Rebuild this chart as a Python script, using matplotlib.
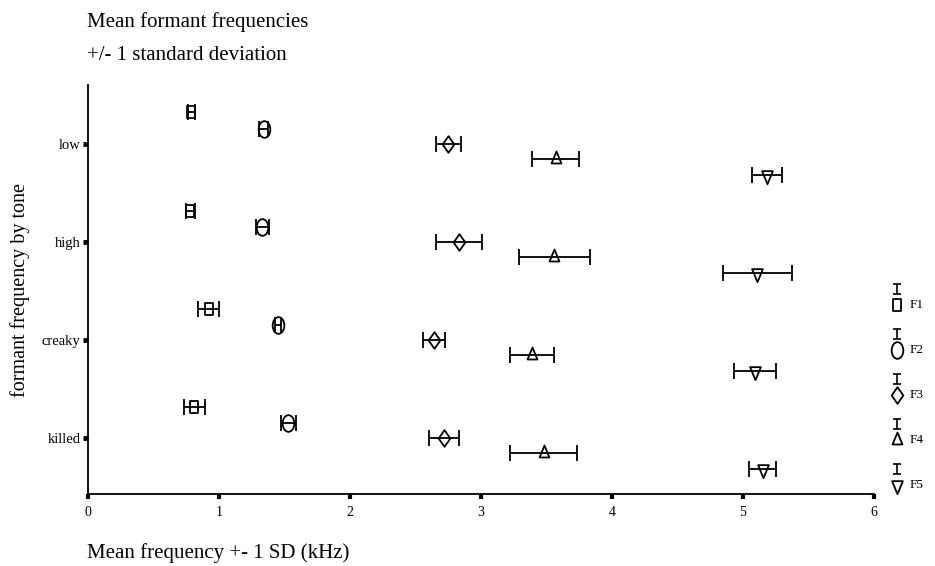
import numpy as np
import matplotlib
matplotlib.use('Agg')
import matplotlib.pyplot as plt
from matplotlib.path import Path
from matplotlib.transforms import Affine2D

plt.rcParams['font.family'] = ['Liberation Serif', 'DejaVu Serif']

# tones (top to bottom) and formants
tones = ['low', 'high', 'creaky', 'killed']
formants = ['F1', 'F2', 'F3', 'F4', 'F5']

# mean frequency (kHz), rows = tones, columns = F1..F5
means = np.array([
    [0.79, 1.34, 2.75, 3.57, 5.18],
    [0.78, 1.33, 2.83, 3.56, 5.11],
    [0.92, 1.45, 2.64, 3.39, 5.09],
    [0.81, 1.53, 2.72, 3.48, 5.15],
])
# standard deviation (kHz)
sds = np.array([
    [0.03, 0.035, 0.095, 0.18, 0.115],
    [0.035, 0.05, 0.175, 0.27, 0.26],
    [0.08, 0.025, 0.085, 0.165, 0.16],
    [0.08, 0.06, 0.115, 0.255, 0.105],
])


def closed(verts):
    verts = list(verts) + [verts[0]]
    codes = [Path.MOVETO] + [Path.LINETO] * (len(verts) - 2) + [Path.CLOSEPOLY]
    return Path(verts, codes)


# the original markers are a bit taller than wide
rect_m = closed([(-0.75, -1), (0.75, -1), (0.75, 1), (-0.75, 1)])
ellipse_m = Path.unit_circle().transformed(Affine2D().scale(0.7, 1.0))
diamond_m = closed([(0, 1), (0.7, 0), (0, -1), (-0.7, 0)])
tri_up_m = closed([(0, 1), (0.62, -0.5), (-0.62, -0.5)])
tri_dn_m = closed([(0, -1), (0.62, 0.5), (-0.62, 0.5)])

markers = [rect_m, ellipse_m, diamond_m, tri_up_m, tri_dn_m]
msizes = [8.6, 12, 12, 11.5, 12.5]
offsets = [0.32, 0.155, 0.0, -0.155, -0.32]

fig = plt.figure(figsize=(9.35, 5.66), dpi=100)
ax = fig.add_axes([0.0941, 0.1272, 0.8407, 0.7226])

ypos = np.arange(len(tones), 0, -1)  # low=4 ... killed=1

for j, f in enumerate(formants):
    ax.errorbar(means[:, j], ypos + offsets[j], xerr=sds[:, j],
                fmt='none', ecolor='black', elinewidth=1.3,
                capsize=6, capthick=1.3, zorder=2)
    ax.plot(means[:, j], ypos + offsets[j], linestyle='none',
            marker=markers[j], markersize=msizes[j],
            markerfacecolor='none', markeredgecolor='black',
            markeredgewidth=1.3, zorder=3)

ax.set_xlim(0, 6)
ax.set_ylim(0.43, 4.6)
ax.set_xticks(range(7))
ax.set_yticks(ypos)
ax.set_yticklabels(tones)
ax.spines['top'].set_visible(False)
ax.spines['right'].set_visible(False)
ax.spines['left'].set_linewidth(1.3)
ax.spines['bottom'].set_linewidth(1.3)
ax.tick_params(axis='x', direction='out', length=3.5, width=3, labelsize=10, pad=5)
ax.tick_params(axis='y', direction='out', length=3.5, width=3.5, labelsize=10.5, pad=2)

fig.text(20 / 935, 1 - 290 / 566, 'formant frequency by tone', fontsize=14.5,
         rotation=90, va='center', ha='center')
fig.text(87 / 935, 1 - 22 / 566, 'Mean formant frequencies', fontsize=15,
         va='center', ha='left')
fig.text(87 / 935, 1 - 56 / 566, '+/- 1 standard deviation', fontsize=15,
         va='center', ha='left')
fig.text(87 / 935, 1 - 553 / 566, 'Mean frequency +- 1 SD (kHz)', fontsize=15,
         va='center', ha='left')

# legend drawn in its own small axes on the right (1 unit = 1 pixel)
lax = fig.add_axes([880 / 935, 1 - 505 / 566, 50 / 935, 235 / 566])
lax.set_xlim(880, 930)
lax.set_ylim(505, 270)
lax.axis('off')
leg_y = 305 + 45 * np.arange(len(formants))
for j, f in enumerate(formants):
    lax.errorbar([897], [leg_y[j] - 16], yerr=[[5], [5]], fmt='none',
                 ecolor='black', elinewidth=1.2, capsize=2.6, capthick=1.2)
    lax.plot([897], [leg_y[j]], linestyle='none', marker=markers[j],
             markersize=msizes[j], markerfacecolor='white',
             markeredgecolor='black', markeredgewidth=1.3)
    lax.text(910, leg_y[j], f, fontsize=9.5, va='center', ha='left')

fig.savefig('out.png', dpi=100)
